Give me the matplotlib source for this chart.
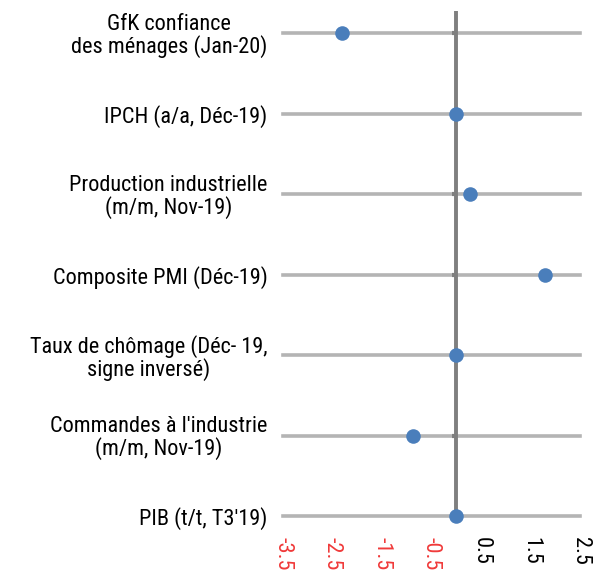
import matplotlib
matplotlib.use("Agg")
import matplotlib.pyplot as plt

categories = [
    "PIB (t/t, T3'19)",
    "Commandes à l'industrie\n(m/m, Nov-19)",
    "Taux de chômage (Déc- 19,\nsigne inversé)",
    "Composite PMI (Déc-19)",
    "Production industrielle\n(m/m, Nov-19)",
    "IPCH (a/a, Déc-19)",
    "GfK confiance\ndes ménages (Jan-20)",
]
values = [0.0, -0.88, 0.0, 1.8, 0.28, 0.0, -2.3]
xticks = [-3.5, -2.5, -1.5, -0.5, 0.5, 1.5, 2.5]
xticklabels = ["-3.5", "-2.5", "-1.5", "-0.5", "0.5", "1.5", "2.5"]

plt.rcParams['font.family'] = ['Roboto Condensed', 'Liberation Sans', 'DejaVu Sans']

fig = plt.figure(figsize=(6.05, 5.71), dpi=100)
ax = fig.add_axes([0.4673, 0.0963, 0.4914, 0.8844])

ypos = list(range(len(categories)))
ax.set_xlim(-3.5, 2.5)
ax.set_ylim(0, 6.273)

ax.set_yticks(ypos)
ax.set_yticklabels(categories, fontsize=16)
for t in ax.get_yticklabels():
    t.set_multialignment('center')
    t.set_linespacing(1.0)
ax.tick_params(axis='y', length=0, pad=11)
ax.grid(axis='y', color='#b4b4b4', linewidth=2.6, zorder=1)
ax.set_axisbelow(True)
for ln in ax.get_ygridlines():
    ln.set_clip_on(False)

ax.set_xticks(xticks)
ax.set_xticklabels(xticklabels, rotation=-90, fontsize=16)
ax.tick_params(axis='x', length=0, pad=15)
for t, v in zip(ax.get_xticklabels(), xticks):
    t.set_color('#f03a3a' if v < 0 else 'black')

for s in ['top', 'right', 'left', 'bottom']:
    ax.spines[s].set_visible(False)

# zero axis line with small tick marks
ax.axvline(0, color='#7f7f7f', linewidth=2.8, zorder=3)
ax.plot([0] * len(ypos), ypos, linestyle='none', marker=0, markersize=3,
        markeredgewidth=3, color='#7f7f7f', zorder=3, clip_on=False)

ax.scatter(values, ypos, s=110, color='#4a7ebb', zorder=5, clip_on=False, linewidths=0)

fig.savefig("out.png", dpi=100)
